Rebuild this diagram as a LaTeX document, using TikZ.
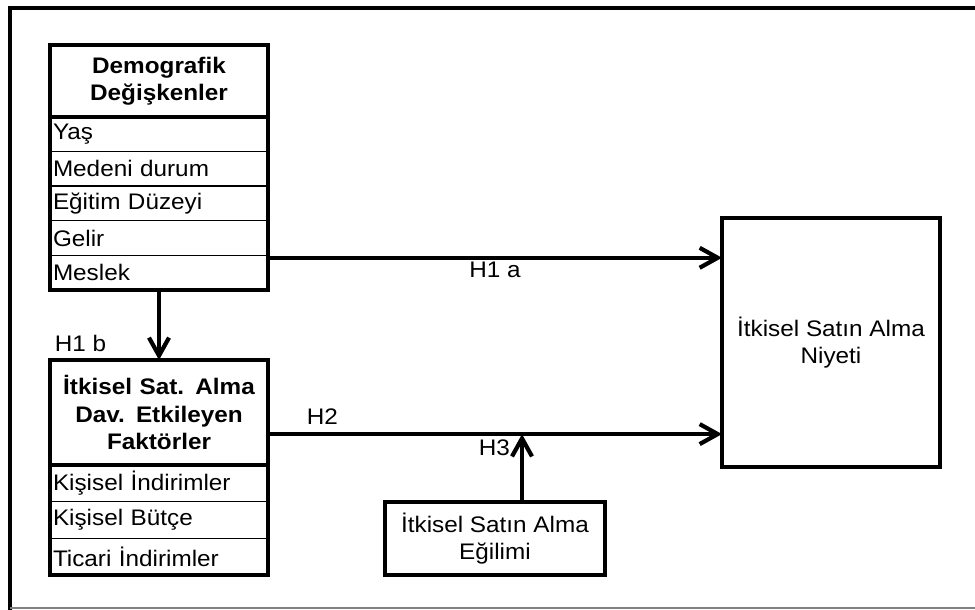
\documentclass[tikz,border=0pt]{standalone}
\usepackage{fontspec}
\setmainfont{Liberation Sans}[FakeStretch=1.08]
\usetikzlibrary{arrows.meta,positioning}

\begin{document}
\begin{tikzpicture}[>={Straight Barb[length=4.5mm,width=5mm]},
   every node/.style={font=\fontsize{16}{19.5}\selectfont,outer sep=0pt},
   head/.style={align=center,font=\fontsize{16}{19.5}\selectfont\bfseries,text width=5.3cm,inner xsep=0.075cm},
   row/.style={draw,line width=1pt,align=left,text width=5.3cm,inner xsep=0.075cm,inner ysep=0pt,minimum height=#1},
   bx/.style={draw,line width=3pt,align=center},
   frame/.style={line width=3pt},
   arr/.style={->,line width=3pt}]
  \useasboundingbox (0,0) rectangle (24.375,15.25);
  \draw[frame] (24.6,15.05) -| (0.25,-0.2);
  \draw[gray,line width=1pt] (0.25,0.05) -- (24.6,0.05);

  \node[head,minimum height=1.8cm] (demo) at (3.975,13.225) {Demografik\\Değişkenler};
  \node[row=0.865cm,below=0pt of demo] (yas) {Yaş};
  \node[row=0.865cm,below=0pt of yas] (medeni) {Medeni durum};
  \node[row=0.865cm,below=0pt of medeni] (egitim) {Eğitim Düzeyi};
  \node[row=0.865cm,below=0pt of egitim] (gelir) {Gelir};
  \node[row=0.865cm,below=0pt of gelir] (meslek) {Meslek};
  \draw[frame] (demo.north west) rectangle (meslek.south east);
  \draw[frame] (demo.south west) -- (demo.south east);

  \node[head,minimum height=2.625cm] (etken) at (3.975,4.9375) {İtkisel Sat. Alma\\Dav. Etkileyen\\Faktörler};
  \node[row=0.917cm,below=0pt of etken] (kisind) {Kişisel İndirimler};
  \node[row=0.917cm,below=0pt of kisind] (butce) {Kişisel Bütçe};
  \node[row=0.917cm,below=0pt of butce] (ticari) {Ticari İndirimler};
  \draw[frame] (etken.north west) rectangle (ticari.south east);
  \draw[frame] (etken.south west) -- (etken.south east);

  \node[bx,minimum width=5.45cm,minimum height=6.225cm] (niyet) at (20.775,6.6875) {İtkisel Satın Alma\\Niyeti};
  \node[bx,minimum width=5.5cm,minimum height=1.825cm] (egilim) at (12.375,1.7875) {İtkisel Satın Alma\\Eğilimi};

  \draw[arr] (meslek.south) -- (etken.north);
  \node[anchor=base west,inner sep=0pt] (h1b) at ([shift={(0.12,0.2)}]etken.north west) {H1 b};

  \coordinate (h1s) at ([yshift=-0.06cm]gelir.south east);
  \draw[arr] (h1s) -- (h1s -| niyet.west) node[midway,below] (h1a) {H1 a};

  \coordinate (h2s) at ([yshift=-0.54cm]etken.east);
  \draw[arr] (h2s) -- (h2s -| niyet.west) node[pos=0.12,above=0.12cm] (h2) {H2};

  \coordinate (h3s) at ([xshift=0.675cm]egilim.north);
  \coordinate (h3e) at (h3s |- h2s);
  \draw[arr] (h3s) -- (h3e);
  \node[anchor=north east,inner sep=0pt] (h3) at ([shift={(-0.3,-0.15)}]h3e) {H3};
\end{tikzpicture}
\end{document}
